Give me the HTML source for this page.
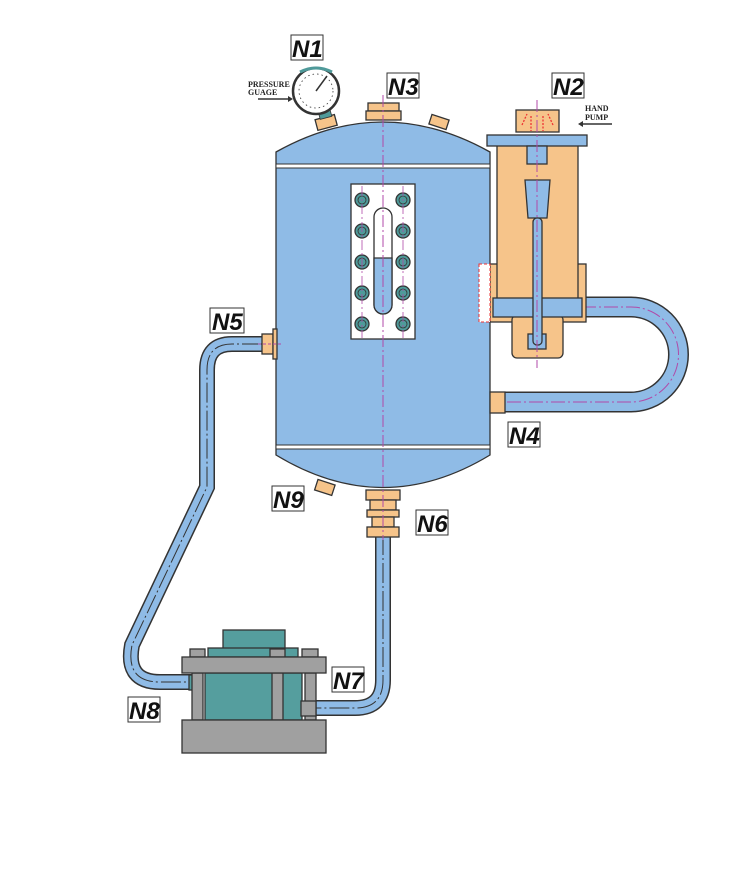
<!DOCTYPE html>
<html><head><meta charset="utf-8"><style>
body{margin:0;background:#fff;}
svg{display:block}
.lb{font-family:"Liberation Sans",sans-serif;font-weight:bold;font-style:italic;font-size:24px;fill:#111}
.sm{font-family:"Liberation Serif",serif;font-weight:bold;font-size:8px;fill:#222}
</style></head><body>
<svg width="752" height="870" viewBox="0 0 752 870" xmlns="http://www.w3.org/2000/svg">
<g stroke="#333" stroke-width="1.3">
<path d="M575 307 H631 A47.5 47.5 0 0 1 631 402 H500" fill="none" stroke="#333" stroke-width="21"/>
<path d="M575 307 H631 A47.5 47.5 0 0 1 631 402 H500" fill="none" stroke="#8fbbe6" stroke-width="18"/>
<path d="M582 307 H631 A47.5 47.5 0 0 1 631 402 H480" fill="none" stroke="#b04aa8" stroke-width="1" stroke-dasharray="14,3,2,3"/>
<path d="M262 344 H232 Q207 344 207 370 V487 L132 645 Q125 682 160 682 H192" fill="none" stroke="#333" stroke-width="16"/>
<path d="M262 344 H232 Q207 344 207 370 V487 L132 645 Q125 682 160 682 H192" fill="none" stroke="#8fbbe6" stroke-width="13"/>
<path d="M262 344 H232 Q207 344 207 370 V487 L132 645 Q125 682 160 682 H192" fill="none" stroke="#333" stroke-width="1" stroke-dasharray="20,3,2,3"/>
<path d="M383 535 V680 Q383 708 355 708 H312" fill="none" stroke="#333" stroke-width="16"/>
<path d="M383 535 V680 Q383 708 355 708 H312" fill="none" stroke="#8fbbe6" stroke-width="13"/>
<path d="M383 535 V680 Q383 708 355 708 H312" fill="none" stroke="#333" stroke-width="1" stroke-dasharray="20,3,2,3"/>

<path d="M276 160 V152 Q383 92 490 152 V160 V455 Q383 520 276 455 Z" fill="#8fbbe6"/>
<rect x="276" y="164" width="214" height="4" fill="#fff" stroke-width="1"/>
<rect x="276" y="445" width="214" height="4" fill="#fff" stroke-width="1"/>
<rect x="351" y="184" width="64" height="155" fill="#fff"/>
<rect x="374" y="208" width="18" height="106" rx="9" fill="#fff"/>
<path d="M374 258 H392 V305 A9 9 0 0 1 374 305 Z" fill="#8fbbe6"/>
<g fill="#4f9a9a">
<circle cx="362" cy="200" r="7"/><circle cx="403" cy="200" r="7"/>
<circle cx="362" cy="231" r="7"/><circle cx="403" cy="231" r="7"/>
<circle cx="362" cy="262" r="7"/><circle cx="403" cy="262" r="7"/>
<circle cx="362" cy="293" r="7"/><circle cx="403" cy="293" r="7"/>
<circle cx="362" cy="324" r="7"/><circle cx="403" cy="324" r="7"/>
</g>
<g fill="none" stroke-width="0.8">
<circle cx="362" cy="200" r="4"/><circle cx="403" cy="200" r="4"/>
<circle cx="362" cy="231" r="4"/><circle cx="403" cy="231" r="4"/>
<circle cx="362" cy="262" r="4"/><circle cx="403" cy="262" r="4"/>
<circle cx="362" cy="293" r="4"/><circle cx="403" cy="293" r="4"/>
<circle cx="362" cy="324" r="4"/><circle cx="403" cy="324" r="4"/>
</g>
<line x1="362" y1="186" x2="362" y2="338" stroke="#b04aa8" stroke-width="0.8" stroke-dasharray="10,3,2,3"/>
<line x1="403" y1="186" x2="403" y2="338" stroke="#b04aa8" stroke-width="0.8" stroke-dasharray="10,3,2,3"/>

<rect x="368" y="103" width="31" height="8" fill="#f6c48a"/>
<rect x="366" y="111" width="35" height="9" fill="#f6c48a"/>
<rect x="316" y="117" width="20" height="11" fill="#f6c48a" transform="rotate(-15 326 122)"/>
<rect x="430" y="117" width="18" height="10" fill="#f6c48a" transform="rotate(18 439 122)"/>
<rect x="319" y="110" width="12" height="8" fill="#4f9a9a" stroke-width="0.8" transform="rotate(-15 325 114)"/>
<circle cx="316" cy="91" r="23" fill="#fff" stroke-width="2.5"/>
<path d="M300 72 Q316 64 332 72" fill="none" stroke="#4f9a9a" stroke-width="3"/>
<line x1="316" y1="91" x2="327" y2="76" stroke-width="1.5"/>
<circle cx="316" cy="91" r="17" fill="none" stroke-width="0.8" stroke-dasharray="1.5,3"/>
<rect x="366" y="490" width="34" height="10" fill="#f6c48a"/>
<rect x="370" y="500" width="26" height="10" fill="#f6c48a"/>
<rect x="367" y="510" width="32" height="7" fill="#f6c48a"/>
<rect x="372" y="517" width="22" height="10" fill="#f6c48a"/>
<rect x="367" y="527" width="32" height="10" fill="#f6c48a"/>
<rect x="316" y="482" width="18" height="11" fill="#f6c48a" transform="rotate(18 325 487)"/>
<rect x="262" y="334" width="11" height="20" fill="#f6c48a"/>
<rect x="273" y="329" width="4" height="30" fill="#f6c48a"/>
<rect x="490" y="392" width="15" height="21" fill="#f6c48a"/>

<rect x="490" y="264" width="96" height="58" fill="#f6c48a"/>
<rect x="497" y="145" width="81" height="160" fill="#f6c48a"/>
<rect x="512" y="315" width="51" height="43" rx="5" fill="#f6c48a"/>
<rect x="487" y="135" width="100" height="11" fill="#8fbbe6"/>
<rect x="527" y="146" width="20" height="18" fill="#8fbbe6"/>
<rect x="493" y="298" width="89" height="19" fill="#8fbbe6"/>
<path d="M525 180 H550 L547 218 H528 Z" fill="#8fbbe6"/>
<rect x="528" y="334" width="18" height="15" fill="#8fbbe6"/>
<rect x="533" y="218" width="9" height="127" rx="4" fill="#8fbbe6"/>
<rect x="516" y="110" width="43" height="22" fill="#f6c48a"/>
<rect x="479" y="264" width="11" height="58" fill="#fff" stroke="#e33" stroke-dasharray="3,2" stroke-width="1"/>
<path d="M522 125 L527 114 M553 125 L548 114 M531 116 V131 M543 116 V131" stroke="#e33" stroke-dasharray="2,1.5"/>

<line x1="383" y1="95" x2="383" y2="540" stroke="#b04aa8" stroke-width="1" stroke-dasharray="12,3,2,3"/>
<line x1="537" y1="100" x2="537" y2="368" stroke="#b04aa8" stroke-width="1" stroke-dasharray="12,3,2,3"/>
<line x1="258" y1="344" x2="282" y2="344" stroke="#b04aa8" stroke-width="1" stroke-dasharray="3,2"/>

<rect x="223" y="630" width="62" height="20" fill="#559e9e"/>
<rect x="208" y="648" width="90" height="9" fill="#559e9e"/>
<rect x="190" y="649" width="15" height="8" fill="#a0a0a0"/>
<rect x="270" y="649" width="15" height="8" fill="#a0a0a0"/>
<rect x="302" y="649" width="16" height="8" fill="#a0a0a0"/>
<rect x="205" y="673" width="97" height="47" fill="#559e9e"/>
<rect x="189" y="675" width="10" height="15" fill="#559e9e"/>
<rect x="192" y="673" width="11" height="47" fill="#a0a0a0"/>
<rect x="272" y="673" width="11" height="47" fill="#a0a0a0"/>
<rect x="305" y="673" width="11" height="47" fill="#a0a0a0"/>
<rect x="182" y="657" width="144" height="16" fill="#a0a0a0"/>
<rect x="301" y="701" width="15" height="15" fill="#a0a0a0"/>
<rect x="182" y="720" width="144" height="33" fill="#a0a0a0"/>
</g>

<text x="248" y="87" class="sm">PRESSURE</text>
<text x="248" y="95" class="sm">GUAGE</text>
<line x1="258" y1="99" x2="288" y2="99" stroke="#333" stroke-width="1.5"/>
<path d="M288 96 L293 99 L288 102Z" fill="#333"/>
<text x="585" y="111" class="sm">HAND</text>
<text x="585" y="120" class="sm">PUMP</text>
<line x1="582" y1="124" x2="612" y2="124" stroke="#333" stroke-width="1.5"/>
<path d="M583 121 L578 124 L583 127Z" fill="#333"/>

<g fill="#fff" stroke="#333" stroke-width="1">
<rect x="291" y="35" width="32" height="25"/>
<rect x="387" y="73" width="32" height="25"/>
<rect x="552" y="73" width="32" height="25"/>
<rect x="210" y="308" width="34" height="25"/>
<rect x="508" y="422" width="32" height="25"/>
<rect x="272" y="486" width="32" height="25"/>
<rect x="416" y="510" width="32" height="25"/>
<rect x="332" y="667" width="32" height="25"/>
<rect x="128" y="697" width="32" height="25"/>
</g>
<text x="292" y="57" class="lb">N1</text>
<text x="388" y="95" class="lb">N3</text>
<text x="553" y="95" class="lb">N2</text>
<text x="212" y="330" class="lb">N5</text>
<text x="509" y="444" class="lb">N4</text>
<text x="273" y="508" class="lb">N9</text>
<text x="417" y="532" class="lb">N6</text>
<text x="333" y="689" class="lb">N7</text>
<text x="129" y="719" class="lb">N8</text>
</svg>
</body></html>
